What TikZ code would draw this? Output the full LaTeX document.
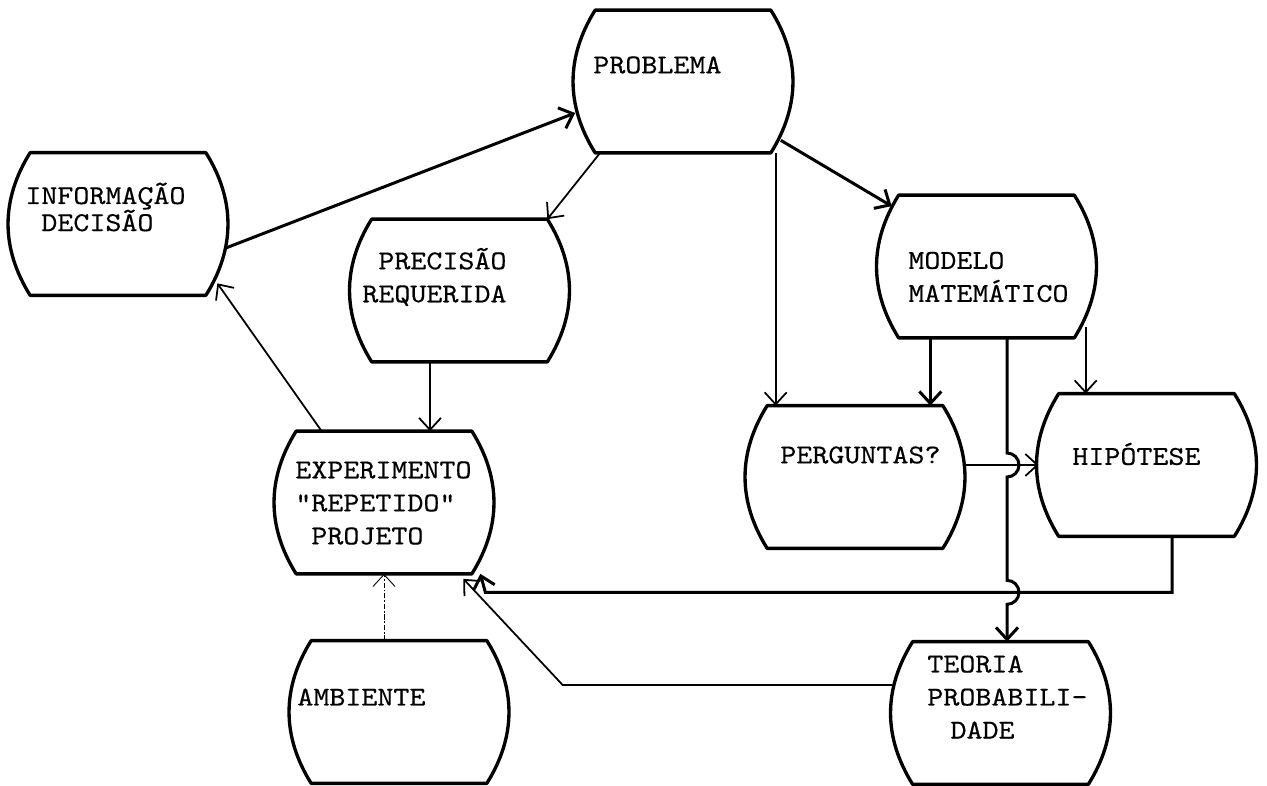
\documentclass[tikz,border=0pt]{standalone}
\usepackage{fontspec}
\newfontfamily\maquina{lmmono10-regular.otf}[FakeStretch=1.12,FakeBold=0.4]
\usetikzlibrary{arrows.meta,calc}

\begin{document}
\begin{tikzpicture}
\tikzset{caixa/.style = {minimum width=4.3cm, minimum height=2.84cm, inner sep=0pt}}
\tikzset{contorno/.style = {line width=1.9pt, line join=round}}
\tikzset{rotulo/.style = {anchor=west, align=left, inner sep=0pt, font=\maquina\fontsize{15.5}{18.8}\selectfont}}
\tikzset{seta/.style = {-{Straight Barb[length=2.4mm,width=4.4mm]}, line width=1pt}}
\tikzset{grossa/.style = {line width=1.7pt}}
\tikzset{tracejada/.style = {densely dash dot, line width=0.5pt}}
\useasboundingbox (0,0) rectangle (25.34,15.7);

% caixas
\node[caixa](info) at (2.36, 11.22) {};
\node[caixa](prob) at (13.66, 14.07) {};
\node[caixa](prec) at (9.19, 9.89) {};
\node[caixa](modelo) at (19.73, 10.37) {};
\node[caixa](perg) at (17.10, 6.16) {};
\node[caixa](hip) at (22.93, 6.40) {};
\node[caixa](exp) at (7.68, 5.65) {};
\node[caixa](amb) at (7.98, 1.46) {};
\node[caixa](teoria) at (20.01, 1.44) {};
\foreach \n in {info,prob,prec,modelo,perg,hip,exp,amb,teoria}
  \draw[contorno] ([xshift=4mm]\n.north west) -- ([xshift=-4mm]\n.north east)
    to[bend left=32] ([xshift=-4mm]\n.south east) -- ([xshift=4mm]\n.south west)
    to[bend left=32] ([xshift=4mm]\n.north west) -- cycle;

% textos
\node[rotulo, font=\maquina\fontsize{15.5}{15.4}\selectfont](info-t) at (0.50, 11.56) {INFORMAÇÃO\\~DECISÃO};
\node[rotulo](prob-t) at (11.86, 14.40) {PROBLEMA};
\node[rotulo](prec-t) at (7.24, 10.16) {~PRECISÃO\\REQUERIDA};
\node[rotulo](modelo-t) at (18.16, 10.16) {MODELO\\MATEMÁTICO};
\node[rotulo](perg-t) at (15.60, 6.60) {PERGUNTAS?};
\node[rotulo](hip-t) at (21.44, 6.62) {HIPÓTESE};
\node[rotulo](exp-t) at (5.90, 5.64) {EXPERIMENTO\\"REPETIDO"\\~PROJETO};
\node[rotulo](amb-t) at (5.94, 1.76) {AMBIENTE};
\node[rotulo](teoria-t) at (18.54, 1.76) {TEORIA\\PROBABILI-\\\hspace*{0.85em}DADE};

% ligacoes
\draw[seta,grossa] ([yshift=-4.8mm]info.east) -- ([yshift=-6.3mm]prob.west);
\draw[seta] ([xshift=5mm]prob.south west) -- ([xshift=-4mm]prec.north east);
\coordinate (p1) at ([xshift=5.7mm]perg.north west);
\draw[seta] (prob.south -| p1) -- (p1);
\draw[seta,grossa] ([shift={(-2mm,2.5mm)}]prob.south east) -- ([shift={(2.6mm,-2.2mm)}]modelo.north west);
\coordinate (p2) at ([xshift=-6.5mm]perg.north east);
\draw[seta,grossa] (modelo.south -| p2) -- (p2);
\coordinate (h1) at ([xshift=9.4mm]hip.north west);
\draw[seta] ($(modelo.south -| h1)+(0,0.21)$) -- (h1);
\draw[seta] ([yshift=2.4mm]perg.east) -- (hip.west);
\coordinate (e1) at ([xshift=-2.3mm]exp.south east);
\coordinate (h2) at ($(e1)+(0.1,-0.37)$);
\draw[seta,grossa] ([xshift=5.1mm]hip.south) |- (h2) -- (e1);
\coordinate (t1) at ([xshift=1.3mm]teoria.north);
\draw[seta,grossa] (t1 |- modelo.south) -- ($(t1 |- hip.west)+(0,0.24)$)
  arc[start angle=90, end angle=-90, radius=0.24] -- ($(t1 |- h2)+(0,0.24)$)
  arc[start angle=90, end angle=-90, radius=0.24] -- (t1);
\coordinate (e2) at ([shift={(-5.7mm,-1mm)}]exp.south east);
\draw[seta] ([yshift=5.6mm]teoria.west) -- ++(-6.6,0) -- (e2);
\draw[seta,tracejada] (amb.north -| exp.south) -- (exp.south);
\draw[seta] ([xshift=9.1mm]exp.north west) -- ([shift={(-1.7mm,2.4mm)}]info.south east);
\coordinate (e3) at ([xshift=9.2mm]exp.north);
\draw[seta] (prec.south -| e3) -- (e3);
\end{tikzpicture}
\end{document}
